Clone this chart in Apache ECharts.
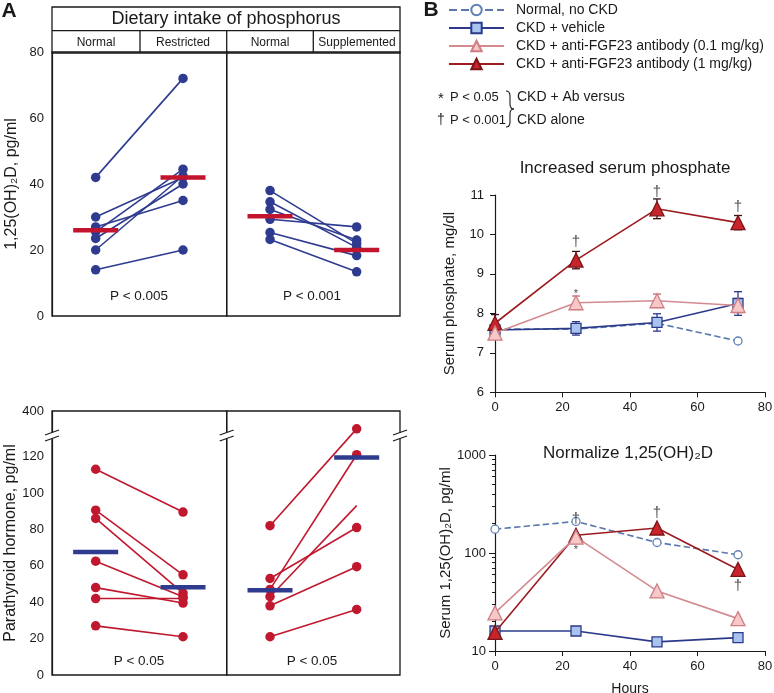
<!DOCTYPE html>
<html>
<head>
<meta charset="utf-8">
<script src="https://cdn.jsdelivr.net/npm/echarts@6/dist/echarts.min.js"></script>
<style>html,body{margin:0;padding:0;background:#fff}#main{width:774px;height:693px}</style>
</head>
<body>
<div id="main"></div>
<script>
// ---- panel A: paired values per animal [before, after]
var vitdRestrictPairs = [[42, 72], [30, 42], [27, 35], [25.5, 44.5], [23.5, 40], [20, 42.5], [14, 20]];
var vitdRestrictMeans = [26, 42];
var vitdSupplPairs = [[38, 22], [34.6, 20.8], [32.3, 23], [29.3, 27], [25.3, 18.3], [23.2, 13.4]];
var vitdSupplMeans = [30.2, 20];
var pthRestrictPairs = [[113, 89.5], [90.5, 55], [86, 45], [62.5, 43], [48, 39.5], [42, 42], [27, 21]];
var pthRestrictMeans = [67.5, 48.2];
var pthSupplPairs = [[82, 330], [53, 81], [47, 121], [43, 93], [38, 59.5], [21, 36]];
var pthSupplMeans = [46.5, 119.5];
var pthSupplNoEndDot = [false, false, false, true, false, false];
var restrictCats = ['Normal', 'Restricted'];
var supplCats = ['Normal', 'Supplemented'];
var pthTicks = [0, 20, 40, 60, 80, 100, 120, 400];

// ---- panel B
var hours = [0, 24, 48, 72];
var names = ['Normal, no CKD', 'CKD + vehicle', 'CKD + anti-FGF23 antibody (0.1 mg/kg)', 'CKD + anti-FGF23 antibody (1 mg/kg)'];
var phosNormal = [7.6, 7.6, 7.75, 7.3];
var phosVehicle = [7.58, 7.62, 7.77, 8.25];
var phosLow = [7.5, 8.27, 8.32, 8.2];
var phosHigh = [7.75, 9.35, 10.65, 10.3];
var phosVehicleErr = [0.04, 0.17, 0.22, 0.3];
var phosLowErr = [0.04, 0.17, 0.17, 0.18];
var phosHighErr = [0.22, 0.22, 0.25, 0.18];
var vitNormal = [175, 210, 128, 96];
var vitVehicle = [16, 16, 12.4, 13.7];
var vitLow = [24.5, 145, 41, 21.4];
var vitHigh = [15.5, 152, 180, 68];
var phosMarks = [[24, 9.82, '†'], [48, 11.08, '†'], [72, 10.7, '†'], [24, 8.5, '*']];
var vitMarks = [[24, 225, '†'], [24, 108, '*'], [48, 254, '†'], [72, 46, '†']];
var logMinorTicks = [20, 30, 40, 50, 60, 70, 80, 90, 200, 300, 400, 500, 600, 700, 800, 900];

var FONT = "'Liberation Sans', Arial, sans-serif";
var INK = '#1a1a1a';
var BLUE = '#2e3b8e', RED = '#c3142d';

// broken PTH axis: linear up to ~130, then 300..400 squeezed on top
function brk(v) { return v <= 125 ? v : 131 + (v - 300) * 0.14; }

var chart = echarts.init(document.getElementById('main'));

var grids = [
  {left: 52, top: 52, width: 174.7, height: 264},
  {left: 226.7, top: 52, width: 173.3, height: 264},
  {left: 52, top: 411, width: 174.7, height: 264},
  {left: 226.7, top: 411, width: 173.3, height: 264},
  {left: 495, top: 195, width: 270, height: 197.3},
  {left: 495, top: 455, width: 270, height: 196}
];
grids.forEach(function (g, i) {
  g.containLabel = false;
  g.outerBoundsMode = 'none';
  if (i < 4) { g.show = true; g.borderColor = INK; g.borderWidth = 1.3; }
});

var lbl = {fontFamily: FONT, fontSize: 13, color: INK};
var axLine = {show: true, lineStyle: {color: INK, width: 1.2}};

var xAxes = [
  {type: 'category', gridIndex: 0, data: restrictCats, show: false},
  {type: 'category', gridIndex: 1, data: supplCats, show: false},
  {type: 'category', gridIndex: 2, data: restrictCats, show: false},
  {type: 'category', gridIndex: 3, data: supplCats, show: false},
  {type: 'value', gridIndex: 4, min: 0, max: 80, interval: 20, axisLine: axLine,
    axisTick: {length: 5, lineStyle: {color: INK}}, axisLabel: Object.assign({margin: 9}, lbl), splitLine: {show: false}},
  {type: 'value', gridIndex: 5, min: 0, max: 80, interval: 20, axisLine: axLine,
    axisTick: {length: 5, lineStyle: {color: INK}}, axisLabel: Object.assign({margin: 9}, lbl), splitLine: {show: false},
    name: 'Hours', nameLocation: 'middle', nameGap: 31, nameTextStyle: {fontFamily: FONT, fontSize: 14, color: INK}}
];

var yName = {fontFamily: FONT, fontSize: 16, color: INK};
var yAxes = [
  {type: 'value', gridIndex: 0, min: 0, max: 80, interval: 20, axisLine: axLine,
    axisTick: {length: 5, lineStyle: {color: INK}}, axisLabel: Object.assign({margin: 8}, lbl), splitLine: {show: false},
    name: '1,25(OH)₂D, pg/ml', nameLocation: 'middle', nameGap: 32, nameTextStyle: yName},
  {type: 'value', gridIndex: 1, min: 0, max: 80, show: false, splitLine: {show: false}},
  {type: 'value', gridIndex: 2, min: 0, max: brk(400), axisLine: axLine,
    axisTick: {length: 5, lineStyle: {color: INK}, customValues: pthTicks.map(brk)},
    axisLabel: Object.assign({margin: 8, customValues: pthTicks.map(brk),
      formatter: function (v) { return Math.abs(v - brk(400)) < 0.01 ? '400' : String(Math.round(v)); }}, lbl),
    splitLine: {show: false},
    name: 'Parathyroid hormone, pg/ml', nameLocation: 'middle', nameGap: 32, nameTextStyle: yName},
  {type: 'value', gridIndex: 3, min: 0, max: brk(400), show: false, splitLine: {show: false}},
  {type: 'value', gridIndex: 4, min: 6, max: 11, interval: 1, axisLine: axLine,
    axisTick: {length: 5, lineStyle: {color: INK}}, axisLabel: Object.assign({margin: 11}, lbl), splitLine: {show: false},
    name: 'Serum phosphate, mg/dl', nameLocation: 'middle', nameGap: 38, nameTextStyle: {fontFamily: FONT, fontSize: 15, color: INK}},
  {type: 'log', logBase: 10, gridIndex: 5, min: 10, max: 1000, position: 'left', axisLine: axLine,
    axisTick: {length: 6, lineStyle: {color: INK}},
    axisLabel: Object.assign({margin: 9, formatter: function (v) { return String(Math.round(v)); }}, lbl),
    splitLine: {show: false},
    name: 'Serum 1,25(OH)₂D, pg/ml', nameLocation: 'middle', nameGap: 38, nameTextStyle: {fontFamily: FONT, fontSize: 15, color: INK}},
  {type: 'log', logBase: 10, gridIndex: 5, min: 10, max: 1000, position: 'left', offset: 0, axisLine: {show: false},
    axisTick: {length: 3, lineStyle: {color: INK}, customValues: logMinorTicks}, axisLabel: {show: false}, splitLine: {show: false}}
];

var series = [];

function pairSeries(pairs, gi, color, fn, noEnd) {
  pairs.forEach(function (p, i) {
    var end = {value: fn(p[1])};
    if (noEnd && noEnd[i]) end.symbol = 'none';
    series.push({type: 'line', xAxisIndex: gi, yAxisIndex: gi, data: [fn(p[0]), end],
      symbol: 'circle', symbolSize: 9.5, color: color, lineStyle: {width: 1.6, color: color},
      itemStyle: {color: color}, z: 2, silent: true});
  });
}
function meanSeries(means, gi, color, fn) {
  series.push({type: 'scatter', xAxisIndex: gi, yAxisIndex: gi, data: means.map(fn),
    symbol: 'rect', symbolSize: [45, 4.5], itemStyle: {color: color, opacity: 1}, z: 5, silent: true});
}
var ident = function (v) { return v; };
pairSeries(vitdRestrictPairs, 0, BLUE, ident);
meanSeries(vitdRestrictMeans, 0, RED, ident);
pairSeries(vitdSupplPairs, 1, BLUE, ident);
meanSeries(vitdSupplMeans, 1, RED, ident);
pairSeries(pthRestrictPairs, 2, '#c0182f', brk);
meanSeries(pthRestrictMeans, 2, BLUE, brk);
pairSeries(pthSupplPairs, 3, '#c0182f', brk, pthSupplNoEndDot);
meanSeries(pthSupplMeans, 3, BLUE, brk);

// panel B styles
var styles = [
  {symbol: 'circle', size: 8, fill: '#ffffff', border: '#6080b5', line: '#5a78ad', dash: 'dashed'},
  {symbol: 'rect', size: 10, fill: '#a9c3ef', border: '#2b3a8a', line: '#2b3a8a', dash: 'solid'},
  {symbol: 'triangle', size: 14, fill: '#f6c8c8', border: '#cf7e83', line: '#d38b90', dash: 'solid'},
  {symbol: 'triangle', size: 14, fill: '#c8242b', border: '#7a1518', line: '#9b1b20', dash: 'solid'}
];
function bLine(k, vals, gi, yi, z) {
  var s = styles[k];
  series.push({type: 'line', name: names[k], xAxisIndex: gi, yAxisIndex: yi,
    data: hours.map(function (h, i) { return [h, vals[i]]; }),
    symbol: s.symbol, symbolSize: s.size, showAllSymbol: true, color: s.fill,
    itemStyle: {color: s.fill, borderColor: s.border, borderWidth: 1.3},
    lineStyle: {color: s.line, width: 1.6, type: s.dash}, z: z, silent: true});
}
function errBars(vals, errs, color, gi, yi) {
  series.push({type: 'custom', xAxisIndex: gi, yAxisIndex: yi, z: 2, silent: true,
    data: hours.map(function (h, i) { return [h, vals[i] - errs[i], vals[i] + errs[i]]; }),
    encode: {x: 0, y: [1, 2]},
    renderItem: function (params, api) {
      var top = api.coord([api.value(0), api.value(2)]);
      var bot = api.coord([api.value(0), api.value(1)]);
      var st = {stroke: color, lineWidth: 1.3};
      return {type: 'group', children: [
        {type: 'line', shape: {x1: top[0], y1: top[1], x2: bot[0], y2: bot[1]}, style: st},
        {type: 'line', shape: {x1: top[0] - 4, y1: top[1], x2: top[0] + 4, y2: top[1]}, style: st},
        {type: 'line', shape: {x1: bot[0] - 4, y1: bot[1], x2: bot[0] + 4, y2: bot[1]}, style: st}
      ]};
    }});
}
function marks(list, gi, yi) {
  series.push({type: 'scatter', xAxisIndex: gi, yAxisIndex: yi, clip: false, silent: true, z: 8,
    symbolSize: 1, itemStyle: {color: 'rgba(0,0,0,0)'},
    data: list.map(function (m) {
      return {value: [m[0], m[1]], label: {show: true, position: 'inside', formatter: m[2],
        fontFamily: FONT, fontSize: m[2] === '*' ? 11 : 15, color: INK}};
    })});
}

errBars(phosVehicle, phosVehicleErr, '#2b3a8a', 4, 4);
errBars(phosLow, phosLowErr, '#b56a70', 4, 4);
errBars(phosHigh, phosHighErr, '#3a1010', 4, 4);
bLine(0, phosNormal, 4, 4, 3);
bLine(1, phosVehicle, 4, 4, 4);
bLine(3, phosHigh, 4, 4, 5);
bLine(2, phosLow, 4, 4, 6);
marks(phosMarks, 4, 4);

bLine(0, vitNormal, 5, 5, 3);
bLine(1, vitVehicle, 5, 5, 4);
bLine(3, vitHigh, 5, 5, 5);
bLine(2, vitLow, 5, 5, 6);
marks(vitMarks, 5, 5);

// decorations
var gfx = [];
function txt(t, x, y, size, align, weight) {
  gfx.push({type: 'text', x: x, y: y, z: 100, silent: true,
    style: {text: t, fontFamily: FONT, fontSize: size, fontWeight: weight || 'normal', fill: INK,
      align: align || 'center', verticalAlign: 'middle'}});
}
function seg(x1, y1, x2, y2, w) {
  gfx.push({type: 'line', z: 100, silent: true, shape: {x1: x1, y1: y1, x2: x2, y2: y2},
    style: {stroke: INK, lineWidth: w || 1.3}});
}
function curve(x1, y1, cx, cy, x2, y2) {
  gfx.push({type: 'bezierCurve', z: 100, silent: true,
    shape: {x1: x1, y1: y1, cpx1: cx, cpy1: cy, x2: x2, y2: y2},
    style: {stroke: INK, fill: 'none', lineWidth: 1.1}});
}
// header table of panel A
gfx.push({type: 'rect', z: 100, silent: true, shape: {x: 52, y: 7, width: 348, height: 46},
  style: {fill: 'none', stroke: INK, lineWidth: 1.3}});
seg(52, 30.7, 400, 30.7);
seg(140, 30.7, 140, 53);
seg(226.7, 30.7, 226.7, 53);
seg(313.3, 30.7, 313.3, 53);
txt('Dietary intake of phosphorus', 226, 19, 18);
txt('Normal', 96, 42.5, 12);
txt('Restricted', 183, 42.5, 12);
txt('Normal', 270, 42.5, 12);
txt('Supplemented', 357, 42.5, 12);
txt('P < 0.005', 139, 296, 13.5);
txt('P < 0.001', 312, 296, 13.5);
txt('P < 0.05', 139, 661.5, 13.5);
txt('P < 0.05', 312, 661.5, 13.5);
// axis breaks
[52, 226.7, 400].forEach(function (x) {
  gfx.push({type: 'rect', z: 99, silent: true, shape: {x: x - 4, y: 432.5, width: 8, height: 6}, style: {fill: '#fff'}});
  seg(x - 7, 435, x + 7, 430, 1.2);
  seg(x - 7, 441, x + 7, 436, 1.2);
});
// letters and titles
txt('A', 9, 11, 21, 'center', 'bold');
txt('B', 431, 10, 21, 'center', 'bold');
txt('Increased serum phosphate', 625, 168, 17);
txt('Normalize 1,25(OH)₂D', 628, 453, 17);
// significance key
txt('*', 441, 99, 15);
txt('P < 0.05', 450, 97, 13, 'left');
txt('†', 441, 120, 14);
txt('P < 0.001', 450, 120, 13, 'left');
txt('CKD + Ab versus', 517, 97, 14, 'left');
txt('CKD alone', 517, 120, 14, 'left');
curve(506, 91, 510, 91, 510, 96);
seg(510, 96, 510, 104, 1.1);
curve(510, 104, 510, 109, 514, 109);
curve(514, 109, 510, 109, 510, 114);
seg(510, 114, 510, 122, 1.1);
curve(510, 122, 510, 127, 506, 127);

chart.setOption({
  animation: false,
  backgroundColor: '#fff',
  textStyle: {fontFamily: FONT},
  grid: grids,
  xAxis: xAxes,
  yAxis: yAxes,
  legend: {
    orient: 'vertical', left: 448, top: 2, padding: 0, itemWidth: 55, itemHeight: 13, itemGap: 2,
    data: names, selectedMode: false,
    textStyle: {fontFamily: FONT, fontSize: 14, color: INK, padding: [0, 0, 0, 7], lineHeight: 16}
  },
  graphic: gfx,
  series: series
});
</script>
</body>
</html>
